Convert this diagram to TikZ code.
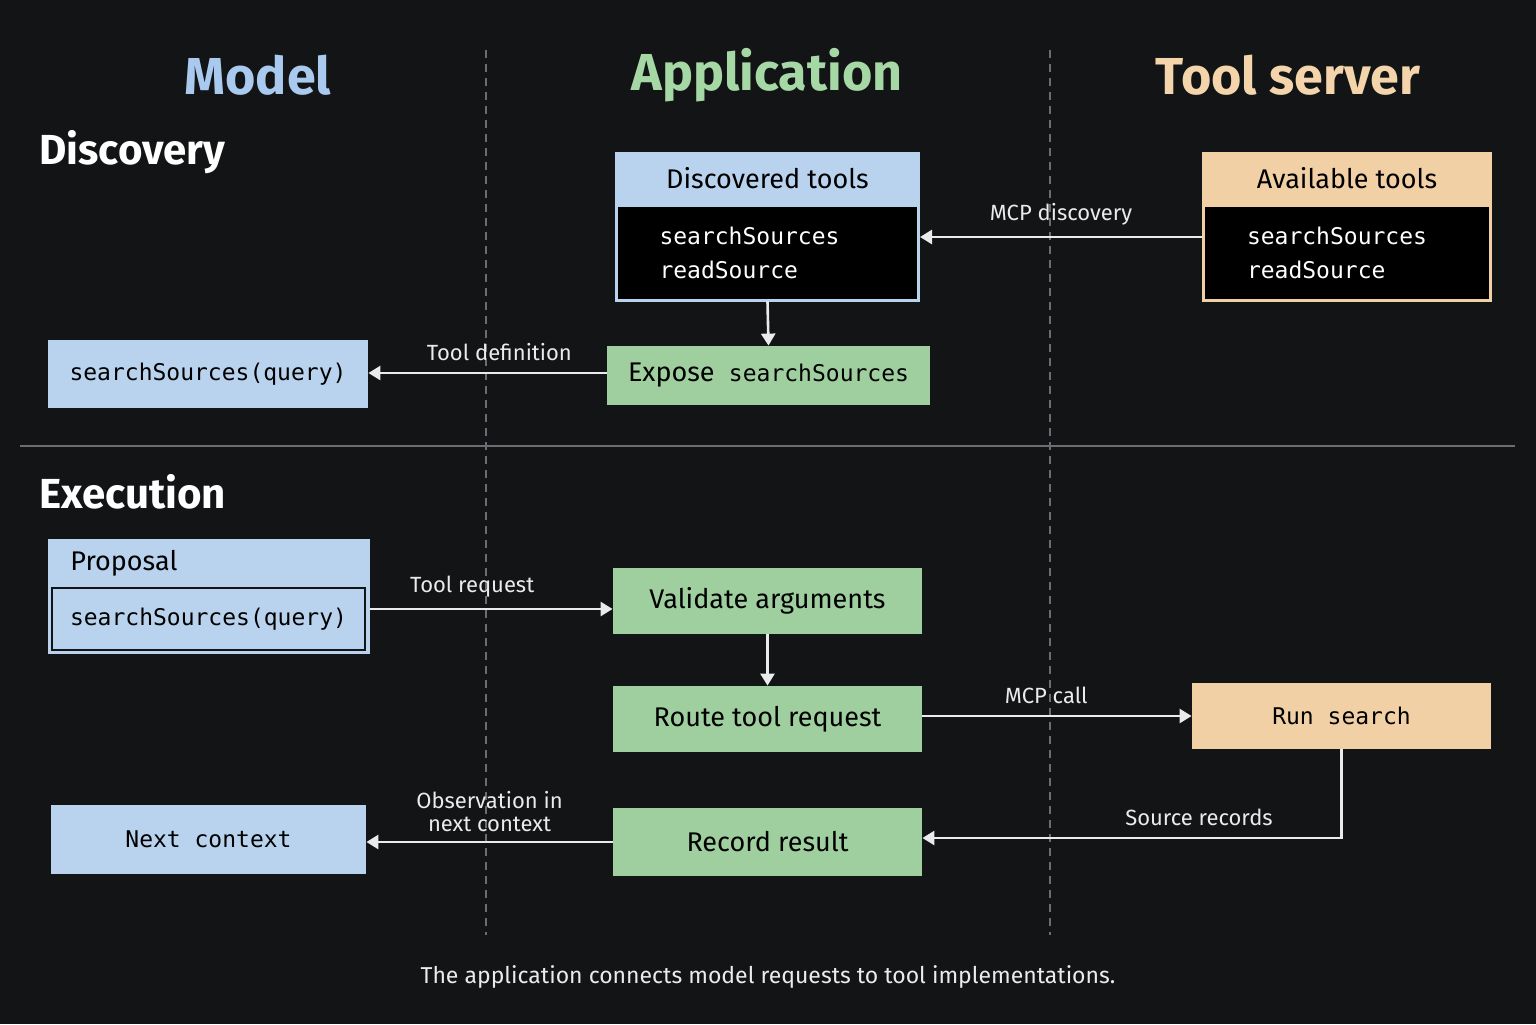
\documentclass[tikz,border=0pt]{standalone}
\usepackage{fontspec}
\setmainfont{Fira Sans}
\setmonofont{DejaVu Sans Mono}
\usetikzlibrary{arrows.meta}
\definecolor{bg}{HTML}{121416}
\definecolor{modelblue}{HTML}{B9D3EE}
\definecolor{appgreen}{HTML}{9FCF9F}
\definecolor{toolpeach}{HTML}{F1D0A6}
\definecolor{headblue}{HTML}{A9C9EE}
\definecolor{headgreen}{HTML}{A6D8A6}
\definecolor{headpeach}{HTML}{F4D4AA}
\definecolor{rulegrey}{HTML}{6A6E72}

\begin{document}
\begin{tikzpicture}
[x=0.5pt,y=-0.5pt,
  boxDecorate/.style={inner sep=0pt,text=black,font=\fontsize{13.5}{15}\selectfont},%
  monoDecorate/.style={boxDecorate,font=\ttfamily\fontsize{11.5}{14}\selectfont},%
  lineDecorate/.style={-{Triangle[length=6pt,width=7pt]},line width=1.3pt,white!92!black},%
  labelDecorate/.style={text=white!92!black,font=\fontsize{11}{11.5}\selectfont,align=center},%
  dividerDecorate/.style={rulegrey,line width=0.7pt,dash pattern=on 4pt off 3pt}]
%%
%% background and frame
\fill[bg] (0,0) rectangle (1536,1024);
\useasboundingbox (0,0) rectangle (1536,1024);
\draw[dividerDecorate] (486,50) -- (486,935);
\draw[dividerDecorate] (1050,50) -- (1050,935);
\draw[rulegrey,line width=1.2pt] (20,446) -- (1515,446);
%% headings
\node[headblue,font=\bfseries\fontsize{26}{28}\selectfont] (model) at (258,75) {Model};
\node[headgreen,font=\bfseries\fontsize{26}{28}\selectfont] (app) at (767,75) {Application};
\node[headpeach,font=\bfseries\fontsize{26}{28}\selectfont] (server) at (1288,75) {Tool server};
\node[white,font=\bfseries\fontsize{21}{23}\selectfont,anchor=west,inner sep=0pt] (discovery) at (39,152) {Discovery};
\node[white,font=\bfseries\fontsize{21}{23}\selectfont,anchor=west,inner sep=0pt] (execution) at (39,492) {Execution};
%%
%% discovery: boxes
\node[boxDecorate,fill=modelblue,minimum width=152.5pt,minimum height=26.5pt] (discHead) at (767.5,178.5) {Discovered tools};
\node[monoDecorate,fill=black,draw=modelblue,line width=1.5pt,minimum width=151pt,minimum height=47.5pt,text=white,
  align=left,text width=108pt] (disc) at (767.5,252.5) {searchSources\\[3pt]readSource};
\node[boxDecorate,fill=toolpeach,minimum width=145pt,minimum height=26.5pt] (availHead) at (1347,178.5) {Available tools};
\node[monoDecorate,fill=black,draw=toolpeach,line width=1.5pt,minimum width=143.5pt,minimum height=47.5pt,text=white,
  align=left,text width=100pt] (avail) at (1347,252.5) {searchSources\\[3pt]readSource};
\node[boxDecorate,fill=appgreen,minimum width=161.5pt,minimum height=29.5pt] (expose) at (768.5,375.5)
  {Expose\ \ {\ttfamily\fontsize{11.5}{14}\selectfont searchSources}};
\node[monoDecorate,fill=modelblue,minimum width=160pt,minimum height=34pt] (query) at (208,374) {searchSources(query)};
%% discovery: connectors
\draw[lineDecorate] (avail.west |- 0,237) -- node[labelDecorate,above=2pt] {MCP discovery} (disc.east |- 0,237);
\draw[lineDecorate] (disc.south) -- (expose.north);
\draw[lineDecorate] (expose.west |- 0,373) -- node[labelDecorate,above=2pt,pos=0.45] {Tool definition} (query.east |- 0,373);
%%
%% execution: boxes
\node[boxDecorate,fill=modelblue,minimum width=161pt,minimum height=57.5pt] (proposal) at (209,596.5) {};
\node[boxDecorate,anchor=west] (proposalHead) at (70,563) {Proposal};
\node[monoDecorate,fill=modelblue,draw=bg,line width=1pt,minimum width=156.5pt,minimum height=31pt] (call) at (208.5,619) {searchSources(query)};
\node[boxDecorate,fill=appgreen,minimum width=154.5pt,minimum height=33pt] (validate) at (767.5,601) {Validate arguments};
\node[boxDecorate,fill=appgreen,minimum width=154.5pt,minimum height=33pt] (route) at (767.5,719) {Route tool request};
\node[monoDecorate,fill=toolpeach,minimum width=149.5pt,minimum height=33pt] (run) at (1341.5,716) {Run\ search};
\node[boxDecorate,fill=appgreen,minimum width=154.5pt,minimum height=34pt] (record) at (767.5,842) {Record result};
\node[monoDecorate,fill=modelblue,minimum width=157.5pt,minimum height=34.5pt] (next) at (208.5,839.5) {Next\ context};
%% execution: connectors
\draw[lineDecorate] (proposal.east |- 0,609) -- node[labelDecorate,above=2pt,pos=0.42] {Tool request} (validate.west |- 0,609);
\draw[lineDecorate] (validate.south) -- (route.north);
\draw[lineDecorate] (route.east |- 0,716) -- node[labelDecorate,above=2pt,pos=0.46] {MCP call} (run.west);
\draw[lineDecorate] (run.south) |- node[labelDecorate,above=2pt,pos=0.67] {Source records} (record.east |- 0,838);
\draw[lineDecorate] (record.west |- 0,842) -- node[labelDecorate,above=1pt,pos=0.5] {Observation in\\next context} (next.east |- 0,842);
%%
%% caption
\node[white!92!black,font=\fontsize{11.5}{13}\selectfont] (caption) at (768,977) {The application connects model requests to tool implementations.};
\end{tikzpicture}
\end{document}
